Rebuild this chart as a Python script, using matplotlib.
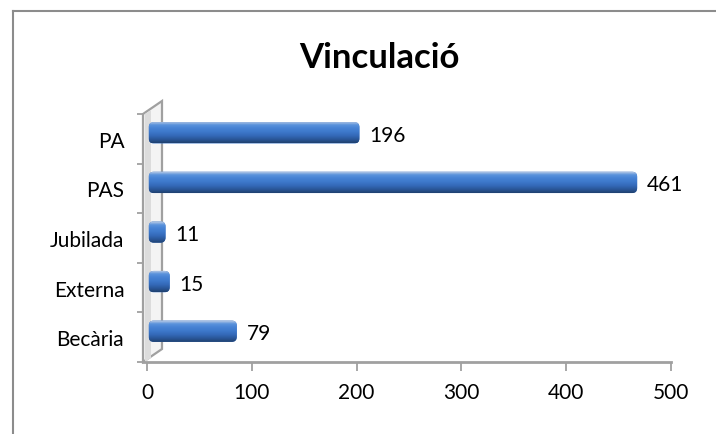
import numpy as np
import matplotlib
matplotlib.use("Agg")
import matplotlib.pyplot as plt
from matplotlib.patches import FancyBboxPatch, Polygon
from matplotlib.colors import LinearSegmentedColormap
from matplotlib.lines import Line2D
import matplotlib.transforms as mtransforms

CATEGORIES = ["Becària", "Externa", "Jubilada", "PAS", "PA"]
VALUES = [79, 15, 11, 461, 196]
X_TICKS = [0, 100, 200, 300, 400, 500]
TITLE = "Vinculació"

FONT = ["Lato", "DejaVu Sans"]
DPI = 100
GRAY = "#a0a0a0"
LABEL_SIZE = 15

# 3D look: bars sit half way into the wall depth
WALL_DX, WALL_DY = 19, 13      # px
BAR_DX, BAR_DY = 7, 6          # px
BAR_H = 0.43
BAR_OVERHANG = 5               # data units hidden behind the wall
ROUND_PX = 5

fig = plt.figure(figsize=(716 / DPI, 435 / DPI), dpi=DPI)
ax = fig.add_axes([143 / 716, 72 / 435, 528 / 716, 248 / 435])
ax.set_xlim(-3.8, 500)
ax.set_ylim(-0.5, len(CATEGORIES) - 0.5)
for s in ax.spines.values():
    s.set_visible(False)

# figure border (only left and top visible in the crop)
fig.add_artist(Line2D([13 / 716, 13 / 716], [0, 1 - 12 / 435],
                      transform=fig.transFigure, color="#8c8c8c", lw=1.5))
fig.add_artist(Line2D([13 / 716, 1], [1 - 12 / 435, 1 - 12 / 435],
                      transform=fig.transFigure, color="#8c8c8c", lw=1.5))

bar_off = mtransforms.ScaledTranslation(BAR_DX / DPI, BAR_DY / DPI, fig.dpi_scale_trans)

# back wall, as a parallelogram built in display space
p0 = ax.transAxes.transform((0, 0))
p1 = ax.transAxes.transform((0, 1))
d = np.array([WALL_DX, WALL_DY])
inv = ax.transAxes.inverted()
wall_pts = inv.transform(np.array([p0, p1, p1 + d, p0 + d]))
ax.add_patch(Polygon(wall_pts, closed=True, transform=ax.transAxes,
                     facecolor="#f4f4f4", edgecolor=GRAY, lw=1.6, zorder=1,
                     clip_on=False))
strip = inv.transform(np.array([p0 + [2, 0], p1 + [2, 0], p1 + [8, 4], p0 + [8, 4]]))
ax.add_patch(Polygon(strip, closed=True, transform=ax.transAxes,
                     facecolor="#dcdcdc", edgecolor="none", zorder=1.1, clip_on=False))

# bottom axis line
ax.plot([0, 1], [0, 0], transform=ax.transAxes, color=GRAY, lw=2, clip_on=False, zorder=2)

# category ticks at boundaries on the wall's front edge
ax.set_yticks(range(len(CATEGORIES)))
ax.set_yticklabels(CATEGORIES, fontsize=LABEL_SIZE, family=FONT)
ax.set_yticks(np.arange(-0.5, len(CATEGORIES)), minor=True)
ax.tick_params(axis="y", which="major", length=0, pad=13.5)
ax.tick_params(axis="y", which="minor", length=4, width=1.3, color=GRAY)
ax.set_xticks(X_TICKS)
ax.set_xticklabels([str(t) for t in X_TICKS], fontsize=LABEL_SIZE, family=FONT)
ax.tick_params(axis="x", length=6.5, width=1.3, color=GRAY, pad=8)

# px -> data scale for rounded bar caps
px_per_x = 528 / (500 + 3.8)
px_per_y = 248 / len(CATEGORIES)
aspect = px_per_x / px_per_y
rsize = ROUND_PX / px_per_x

cmap = LinearSegmentedColormap.from_list(
    "cyl", ["#c8d4e6", "#5a92dc", "#4682d4", "#3d78ca", "#3469b8", "#2a5799", "#1f4170"])
grad = np.linspace(0, 1, 64).reshape(-1, 1)

bar_trans = ax.transData + bar_off
for i, v in enumerate(VALUES):
    left = -BAR_OVERHANG
    patch = FancyBboxPatch((left, i - BAR_H / 2), v - left, BAR_H,
                           boxstyle=f"round,pad=0,rounding_size={rsize}",
                           mutation_aspect=aspect, transform=bar_trans,
                           facecolor="#3b74c6", edgecolor="none", zorder=3)
    ax.add_patch(patch)
    im = ax.imshow(grad, cmap=cmap, aspect="auto", interpolation="bilinear",
                   extent=(left, v, i - BAR_H / 2, i + BAR_H / 2), zorder=3.1)
    im.set_transform(bar_trans)
    im.set_clip_path(patch)
    ax.text(v + 10 / px_per_x, i - 0.04, str(v), transform=bar_trans, fontsize=LABEL_SIZE,
            family=FONT, va="center", ha="left", zorder=4)

ax.set_xlim(-3.8, 500)
ax.set_ylim(-0.5, len(CATEGORIES) - 0.5)

fig.text(379 / 716, 1 - 58 / 435, TITLE, fontsize=25, fontweight="bold",
         family=FONT, ha="center", va="center")

fig.savefig("out.png", dpi=DPI)
